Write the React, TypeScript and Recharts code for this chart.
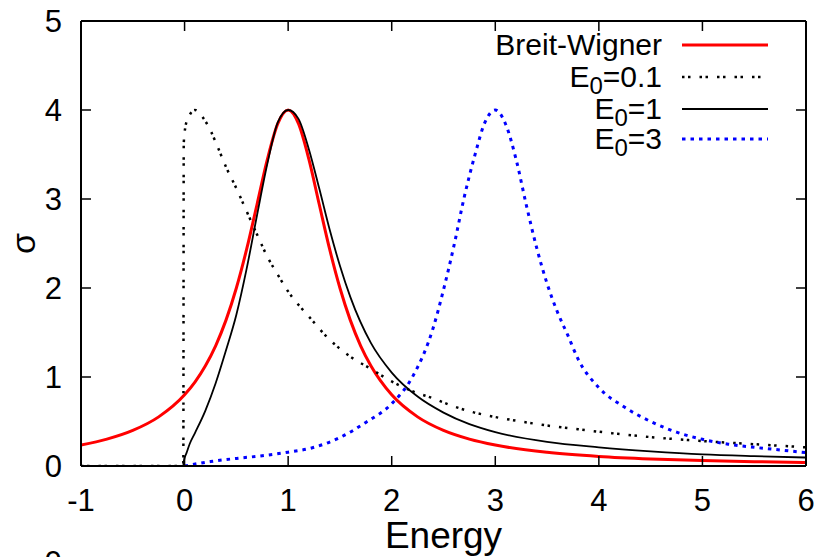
import React from 'react';
import { LineChart, Line, XAxis, YAxis } from 'recharts';

// Breit-Wigner reference curve
const bwEnergy = [-1, -0.75, -0.5, -0.25, 0, 0.1, 0.2, 0.3, 0.4, 0.5, 0.6, 0.7, 0.8, 0.9, 1.0, 1.1, 1.2, 1.3, 1.4, 1.5, 1.6, 1.7, 1.8, 2.0, 2.25, 2.5, 2.75, 3, 3.5, 4, 4.5, 5, 5.5, 6];
const bwSigma = [0.235, 0.302, 0.4, 0.552, 0.8, 0.943, 1.124, 1.351, 1.639, 2.0, 2.439, 2.941, 3.448, 3.846, 4.0, 3.846, 3.448, 2.941, 2.439, 2.0, 1.639, 1.351, 1.124, 0.8, 0.552, 0.4, 0.302, 0.235, 0.154, 0.108, 0.08, 0.0615, 0.049, 0.04];

// E0 = 0.1 (dotted black)
const e01Energy = [-1, -0.012, -0.008, 0.005, 0.035, 0.1, 0.18, 0.25, 0.3, 0.4, 0.5, 0.6, 0.7, 0.8, 0.9, 1.0, 1.2, 1.4, 1.6, 1.8, 2.0, 2.2, 2.4, 2.6, 2.8, 3.0, 3.25, 3.5, 3.75, 4.0, 4.5, 5.0, 5.5, 6.0];
const e01Sigma = [0, 0, 3.62, 3.79, 3.91, 4.0, 3.91, 3.77, 3.64, 3.36, 3.12, 2.86, 2.6, 2.35, 2.15, 1.96, 1.68, 1.42, 1.23, 1.09, 0.95, 0.84, 0.76, 0.67, 0.6, 0.55, 0.5, 0.455, 0.42, 0.385, 0.325, 0.28, 0.245, 0.21];

// E0 = 1 (solid black)
const e1Energy = [-1, -0.012, -0.008, 0.02, 0.05, 0.1, 0.2, 0.3, 0.4, 0.5, 0.6, 0.7, 0.8, 0.9, 1.0, 1.1, 1.2, 1.3, 1.4, 1.5, 1.6, 1.8, 2.0, 2.25, 2.5, 2.75, 3.0, 3.5, 4.0, 4.5, 5.0, 5.5, 6.0];
const e1Sigma = [0, 0, 0.05, 0.15, 0.25, 0.37, 0.62, 0.93, 1.3, 1.7, 2.22, 2.82, 3.4, 3.86, 4.0, 3.9, 3.56, 3.12, 2.66, 2.25, 1.9, 1.38, 1.05, 0.78, 0.6, 0.47, 0.38, 0.27, 0.21, 0.165, 0.13, 0.11, 0.095];

// E0 = 3 (dotted blue)
const e3Energy = [0, 0.25, 0.5, 0.75, 1.0, 1.25, 1.5, 1.75, 2.0, 2.2, 2.4, 2.5, 2.6, 2.7, 2.8, 2.9, 3.0, 3.1, 3.2, 3.3, 3.4, 3.5, 3.6, 3.7, 3.8, 4.0, 4.25, 4.5, 4.75, 5.0, 5.25, 5.5, 5.75, 6.0];
const e3Sigma = [0, 0.05, 0.085, 0.115, 0.155, 0.21, 0.32, 0.49, 0.7, 1.0, 1.55, 1.98, 2.47, 3.02, 3.48, 3.86, 4.0, 3.84, 3.45, 2.93, 2.45, 2.05, 1.73, 1.47, 1.2, 0.88, 0.66, 0.5, 0.38, 0.3, 0.245, 0.21, 0.18, 0.15];

const xTicks = [-1, 0, 1, 2, 3, 4, 5, 6];
const yTicks = [0, 1, 2, 3, 4, 5];

const FONT = '"Liberation Sans", Arial, Helvetica, sans-serif';
const TICK_LEN = 10;
const DOTTED = '2.5 3.5 2.5 9';
const BLUE_DOTS = '3.5 5';

const toPoints = (xs: number[], ys: number[]) => xs.map((x, i) => ({ x, y: ys[i] }));

const legendRows = [
  { name: 'Breit-Wigner', sub: null, rest: '', stroke: '#ff0000', width: 3, dash: undefined },
  { name: 'E', sub: '0', rest: '=0.1', stroke: '#000', width: 2.5, dash: DOTTED },
  { name: 'E', sub: '0', rest: '=1', stroke: '#000', width: 1.8, dash: undefined },
  { name: 'E', sub: '0', rest: '=3', stroke: '#0000ff', width: 3, dash: BLUE_DOTS },
];
const legendY = [45, 77, 109, 139];

function BottomTick({ x, y, payload }: any) {
  return (
    <g>
      <line x1={x} y1={y} x2={x} y2={y - TICK_LEN} stroke="#000" strokeWidth={1.5} />
      <text x={x} y={y + 45} textAnchor="middle" fontSize={31} fontFamily={FONT} fill="#000">{payload.value}</text>
    </g>
  );
}

function TopTick({ x, y }: any) {
  return <line x1={x} y1={y} x2={x} y2={y + TICK_LEN} stroke="#000" strokeWidth={1.5} />;
}

function LeftTick({ x, y, payload }: any) {
  return (
    <g>
      <line x1={x} y1={y} x2={x + TICK_LEN} y2={y} stroke="#000" strokeWidth={1.5} />
      <text x={x - 19} y={y + 11} textAnchor="end" fontSize={31} fontFamily={FONT} fill="#000">{payload.value}</text>
    </g>
  );
}

function RightTick({ x, y }: any) {
  return <line x1={x} y1={y} x2={x - TICK_LEN} y2={y} stroke="#000" strokeWidth={1.5} />;
}

export default function App() {
  const bw = toPoints(bwEnergy, bwSigma);
  const e01 = toPoints(e01Energy, e01Sigma);
  const e1 = toPoints(e1Energy, e1Sigma);
  const e3 = toPoints(e3Energy, e3Sigma);

  return (
    <div style={{ position: 'absolute', left: 0, top: 0, width: 817, height: 557, overflow: 'hidden', background: '#fff' }}>
      <LineChart width={817} height={557} margin={{ top: 20, right: 10, bottom: 0, left: 0 }}>
        <XAxis
          xAxisId="bottom"
          dataKey="x"
          type="number"
          domain={[-1, 6]}
          ticks={xTicks}
          allowDataOverflow
          height={91}
          tickSize={0}
          tickMargin={0}
          tickLine={false}
          tick={<BottomTick />}
          axisLine={{ stroke: '#000', strokeWidth: 2 }}
          label={{
            content: ({ viewBox }: any) => (
              <text x={viewBox.x + viewBox.width / 2} y={viewBox.y + 82} textAnchor="middle" fontSize={37} fontFamily={FONT} fill="#000">Energy</text>
            ),
          }}
        />
        <XAxis
          xAxisId="top"
          orientation="top"
          dataKey="x"
          type="number"
          domain={[-1, 6]}
          ticks={xTicks}
          allowDataOverflow
          height={1}
          tickSize={0}
          tickMargin={0}
          tickLine={false}
          tick={<TopTick />}
          axisLine={{ stroke: '#000', strokeWidth: 2 }}
        />
        <YAxis
          yAxisId="left"
          type="number"
          domain={[0, 5]}
          ticks={yTicks}
          allowDataOverflow
          width={81}
          tickSize={0}
          tickMargin={0}
          tickLine={false}
          tick={<LeftTick />}
          axisLine={{ stroke: '#000', strokeWidth: 2 }}
          label={{
            content: ({ viewBox }: any) => {
              const cx = viewBox.x + 23;
              const cy = viewBox.y + viewBox.height / 2;
              return (
                <text x={cx} y={cy} transform={`rotate(-90 ${cx} ${cy})`} textAnchor="middle" dominantBaseline="central" fontSize={34} fontFamily={FONT} fill="#000">σ</text>
              );
            },
          }}
        />
        <YAxis
          yAxisId="right"
          orientation="right"
          type="number"
          domain={[0, 5]}
          ticks={yTicks}
          allowDataOverflow
          width={1}
          tickSize={0}
          tickMargin={0}
          tickLine={false}
          tick={<RightTick />}
          axisLine={{ stroke: '#000', strokeWidth: 2 }}
        />
        <Line data={bw} dataKey="y" xAxisId="bottom" yAxisId="left" type="monotone" stroke="#ff0000" strokeWidth={3} dot={false} isAnimationActive={false} />
        <Line data={e01} dataKey="y" xAxisId="bottom" yAxisId="left" type="monotone" stroke="#000" strokeWidth={2.5} strokeDasharray={DOTTED} dot={false} isAnimationActive={false} />
        <Line data={e1} dataKey="y" xAxisId="bottom" yAxisId="left" type="monotone" stroke="#000" strokeWidth={1.8} dot={false} isAnimationActive={false} />
        <Line data={e3} dataKey="y" xAxisId="bottom" yAxisId="left" type="monotone" stroke="#0000ff" strokeWidth={3} strokeDasharray={BLUE_DOTS} dot={false} isAnimationActive={false} />
      </LineChart>
      <svg width={817} height={557} style={{ position: 'absolute', left: 0, top: 0, pointerEvents: 'none' }}>
        {legendRows.map((r, i) => (
          <g key={i}>
            <text x={662} y={legendY[i] + 10} textAnchor="end" fontSize={30} fontFamily={FONT} fill="#000">
              {r.name}
              {r.sub && <tspan dy={7} fontSize={24}>{r.sub}</tspan>}
              {r.sub && <tspan dy={-7}>{r.rest}</tspan>}
            </text>
            <line x1={682} y1={legendY[i]} x2={768} y2={legendY[i]} stroke={r.stroke} strokeWidth={r.width} strokeDasharray={r.dash} />
          </g>
        ))}
        <text x={53} y={573} textAnchor="middle" fontSize={31} fontFamily={FONT} fill="#000">0</text>
      </svg>
    </div>
  );
}
